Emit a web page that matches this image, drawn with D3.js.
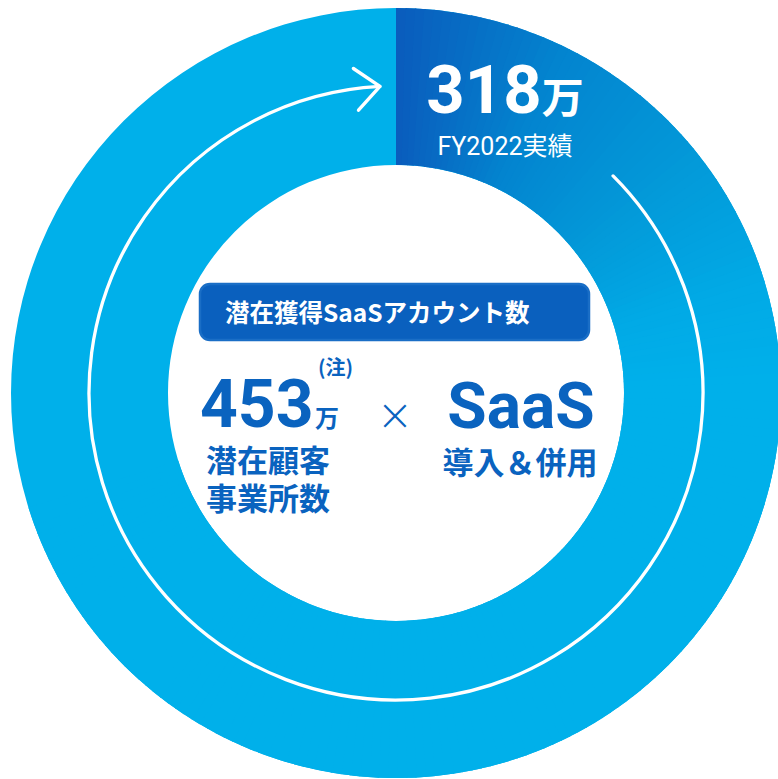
<!DOCTYPE html>
<html lang="ja">
<head>
<meta charset="utf-8">
<script src="https://cdn.jsdelivr.net/npm/d3@7"></script>
<style>
  html, body { margin: 0; padding: 0; background: #fff; }
  svg { display: block; }
</style>
</head>
<body>
<svg id="chart" width="778" height="779"></svg>
<script>
// ---- data (単位: 万) ----
const potentialOffices = 453;     // 潜在顧客事業所数
const actualAccounts = 318;       // FY2022実績
const unit = "万";
const actualLabel = "FY2022実績";
const boxTitle = "潜在獲得SaaSアカウント数";
const noteMark = "(注)";
const leftLines = ["潜在顧客", "事業所数"];
const rightTitle = "SaaS";
const rightLines = ["導入＆併用"];

// shading of the achieved segment, by angle in degrees from 12 o'clock
const shadeAngles = [0, 26, 53, 74, 88];
const shadeColors = ["#0a5cbc", "#0384cf", "#039ad9", "#01aae6", "#00b0ea"];

// ---- layout ----
const width = 778, height = 779;
const cx = 396, cy = 393;
const outerR = 385, innerR = 228;
const guideR = 307;
const ringColor = "#00b0ea";
const textBlue = "#0a63bf";

const svg = d3.select("#chart");
const g = svg.append("g").attr("transform", `translate(${cx},${cy})`);

const angle = d3.scaleLinear().domain([0, potentialOffices]).range([0, 2 * Math.PI]);
const shade = d3.scaleLinear().domain(shadeAngles).range(shadeColors).clamp(true);
const arc = d3.arc().innerRadius(innerR).outerRadius(outerR);

// full ring = potential
g.append("path")
  .attr("d", arc({ startAngle: 0, endAngle: angle(potentialOffices) }))
  .attr("fill", ringColor);

// achieved segment, drawn as thin slices for an angular colour ramp
const segEnd = angle(actualAccounts);
const nSlices = 180;
const slices = d3.range(nSlices).map(i => {
  const a0 = segEnd * i / nSlices;
  const a1 = segEnd * (i + 1) / nSlices;
  return { startAngle: a0, endAngle: Math.min(segEnd, a1 + 0.004), mid: (a0 + a1) / 2 };
});
g.selectAll("path.slice")
  .data(slices)
  .join("path")
  .attr("class", "slice")
  .attr("d", arc)
  .attr("fill", d => shade(d.mid * 180 / Math.PI));

// guide line with arrow head, running clockwise
const deg = Math.PI / 180;
const startA = 45 * deg;          // clockwise from 12 o'clock
const endA = 357 * deg;
const toXY = (a, r) => [r * Math.sin(a), -r * Math.cos(a)];
const p = d3.path();
const [sx, sy] = toXY(startA, guideR);
p.moveTo(sx, sy);
p.arc(0, 0, guideR, startA - Math.PI / 2, endA - Math.PI / 2, false);
g.append("path")
  .attr("d", p.toString())
  .attr("fill", "none")
  .attr("stroke", "#fff")
  .attr("stroke-width", 3.3)
  .attr("stroke-linecap", "round");

const [tx, ty] = toXY(endA, guideR);
const tangent = Math.atan2(Math.sin(endA), Math.cos(endA)); // direction of travel
const back = tangent + Math.PI;
const armLen = 32;
const arms = [back + 37 * deg, back - 45 * deg].map(b => [tx + armLen * Math.cos(b), ty + armLen * Math.sin(b)]);
g.append("path")
  .attr("d", d3.line()([arms[0], [tx, ty], arms[1]]))
  .attr("fill", "none")
  .attr("stroke", "#fff")
  .attr("stroke-width", 3.4)
  .attr("stroke-linecap", "round")
  .attr("stroke-linejoin", "round");

// ---- labels ----
const numFont = "Roboto, 'Noto Sans', sans-serif";
const jpFont = "'Noto Sans CJK JP', 'Noto Sans', sans-serif";

// achieved value on the segment
const topLabel = svg.append("text")
  .attr("x", 505).attr("y", 113)
  .attr("text-anchor", "middle")
  .attr("fill", "#fff");
topLabel.append("tspan")
  .attr("font-family", numFont).attr("font-weight", 700).attr("font-size", 67)
  .text(actualAccounts);
topLabel.append("tspan")
  .attr("font-family", jpFont).attr("font-weight", 700).attr("font-size", 42)
  .text(unit);

svg.append("text")
  .attr("x", 505).attr("y", 155)
  .attr("text-anchor", "middle")
  .attr("fill", "#fff")
  .attr("font-family", "Roboto, 'Noto Sans CJK JP', sans-serif")
  .attr("font-size", 25)
  .text(actualLabel);

// title box
svg.append("rect")
  .attr("x", 200).attr("y", 284)
  .attr("width", 389).attr("height", 56)
  .attr("rx", 10)
  .attr("fill", "#0a60be")
  .attr("stroke", "#1a6ec6")
  .attr("stroke-width", 2.5);
svg.append("text")
  .attr("x", 225).attr("y", 322)
  .attr("fill", "#fff")
  .attr("font-family", jpFont).attr("font-weight", 700).attr("font-size", 24.5)
  .text(boxTitle);

// potential offices
svg.append("text")
  .attr("x", 200).attr("y", 427)
  .attr("fill", textBlue)
  .attr("font-family", numFont).attr("font-weight", 700).attr("font-size", 66)
  .text(potentialOffices);
svg.append("text")
  .attr("x", 315).attr("y", 427)
  .attr("fill", textBlue)
  .attr("font-family", jpFont).attr("font-weight", 700).attr("font-size", 24)
  .text(unit);

svg.append("text")
  .attr("x", 318).attr("y", 375)
  .attr("fill", textBlue)
  .attr("font-family", jpFont).attr("font-weight", 700).attr("font-size", 20)
  .text(noteMark);

svg.append("g").selectAll("text")
  .data(leftLines)
  .join("text")
  .attr("x", 206).attr("y", (d, i) => 472 + i * 38)
  .attr("fill", textBlue)
  .attr("font-family", jpFont).attr("font-weight", 700).attr("font-size", 31)
  .text(d => d);

// multiplication sign
svg.append("text")
  .attr("x", 395).attr("y", 430)
  .attr("text-anchor", "middle")
  .attr("fill", textBlue)
  .attr("font-family", "'DejaVu Sans', sans-serif").attr("font-weight", 300).attr("font-size", 44)
  .text("×");

// SaaS adoption
svg.append("text")
  .attr("x", 521).attr("y", 428)
  .attr("text-anchor", "middle")
  .attr("fill", textBlue)
  .attr("font-family", numFont).attr("font-weight", 700).attr("font-size", 64)
  .text(rightTitle);

svg.append("g").selectAll("text")
  .data(rightLines)
  .join("text")
  .attr("x", 520).attr("y", 474)
  .attr("text-anchor", "middle")
  .attr("fill", textBlue)
  .attr("font-family", jpFont).attr("font-weight", 700).attr("font-size", 31)
  .text(d => d);
</script>
</body>
</html>
